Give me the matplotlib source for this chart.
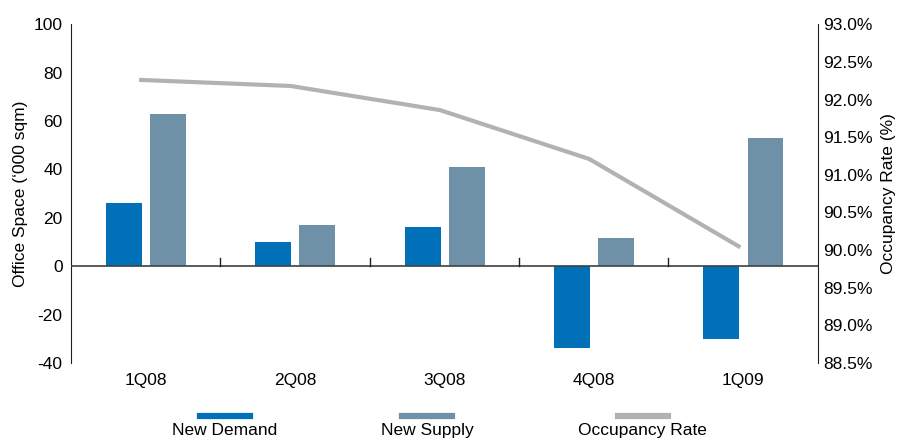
import matplotlib.pyplot as plt
from matplotlib.lines import Line2D
from matplotlib.ticker import FuncFormatter
import numpy as np

plt.rcParams['font.family'] = ['Liberation Sans', 'DejaVu Sans']
plt.rcParams['font.size'] = 12.5
plt.rcParams['axes.unicode_minus'] = False

quarters = ['1Q08', '2Q08', '3Q08', '4Q08', '1Q09']
new_demand = [26, 10, 16, -34, -30]
new_supply = [63, 17, 41, 11.5, 53]
occupancy = [92.26, 92.18, 91.86, 91.21, 90.05]

c_demand = '#0070b8'
c_supply = '#6e91a8'
c_occ = '#b2b2b2'

fig = plt.figure(figsize=(9.03, 4.41), dpi=100)
ax = fig.add_axes([0.0786, 0.177, 0.827, 0.768])

x = np.arange(len(quarters))
w = 0.24
ax.bar(x - 0.145, new_demand, w, color=c_demand, zorder=2)
ax.bar(x + 0.15, new_supply, w, color=c_supply, zorder=2)

ax.set_xlim(-0.5, len(quarters) - 0.5)
ax.set_ylim(-40, 100)
ax.set_yticks(range(-40, 101, 20))
ax.set_xticks(x)
ax.set_xticklabels(quarters)
ax.tick_params(axis='x', length=0, pad=7)
ax.tick_params(axis='y', length=0, pad=6)
ax.set_ylabel('Office Space (\u2018000 sqm)', labelpad=4)

# zero line with small category separators
ax.axhline(0, color='#404040', lw=1.2, zorder=3)
for b in x[:-1] + 0.5:
    ax.plot([b, b], [0, 3.5], color='#202020', lw=1, zorder=3)

for s in ['top', 'bottom', 'right']:
    ax.spines[s].set_visible(False)
ax.spines['left'].set_color('#202020')

ax2 = ax.twinx()
ax2.plot(x - 0.03, occupancy, color=c_occ, lw=3, zorder=4)
ax2.set_ylim(88.5, 93.0)
ax2.set_yticks(np.arange(88.5, 93.01, 0.5))
ax2.yaxis.set_major_formatter(FuncFormatter(lambda v, p: f'{v:.1f}%'))
ax2.tick_params(axis='y', length=0, pad=4)
ax2.set_ylabel('Occupancy Rate (%)', labelpad=6)
for s in ['top', 'bottom', 'left']:
    ax2.spines[s].set_visible(False)
ax2.spines['right'].set_color('#202020')

# legend: swatch above each label
items = [('New Demand', c_demand, 0.249), ('New Supply', c_supply, 0.473), ('Occupancy Rate', c_occ, 0.712)]
for label, col, cx in items:
    fig.add_artist(Line2D([cx - 0.028, cx + 0.028], [0.056, 0.056], color=col, lw=4.5,
                          transform=fig.transFigure))
    fig.text(cx, 0.024, label, ha='center', va='center')

fig.savefig('out.png', dpi=100)
